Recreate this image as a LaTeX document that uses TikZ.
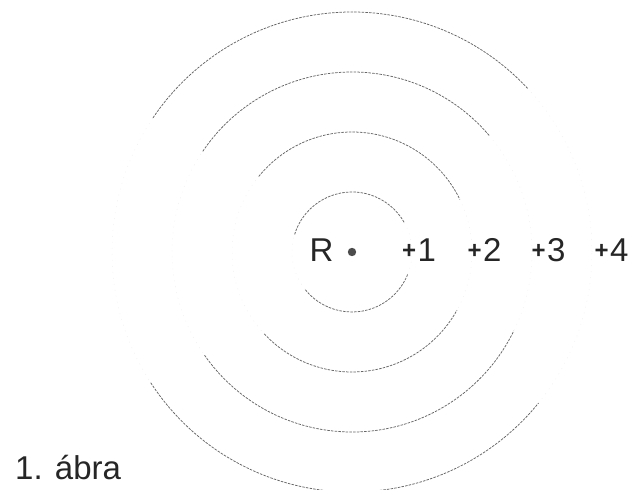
\documentclass[tikz,border=0pt]{standalone}
\usepackage{fontspec}
\setmainfont{Liberation Sans}
\usetikzlibrary{calc}
\newcommand{\plussign}{{\fontsize{24}{24}\selectfont\bfseries\raisebox{3.5pt}{+}}\kern1.5pt}
\begin{document}
\begin{tikzpicture}[x=1pt,y=1pt,
  ring/.style={draw=black!60, line width=0.75pt, dash pattern=on 2.5pt off 1.2pt},
  ghost/.style={draw=black!6, line width=0.5pt, dash pattern=on 1pt off 5pt},
  lbl/.style={anchor=base, inner sep=0pt, text=black!85, font=\fontsize{33}{38}\selectfont},
  pl/.style={lbl}]
\useasboundingbox (0,0) rectangle (635,490);
\coordinate (c) at (352,238);
% faint full circles
\foreach \r in {60,120,180,240} \draw[ghost] (c) circle (\r);
% visible arcs
\draw[ring] ($(c)+(163:60)$) arc (163:29:60);
\draw[ring] ($(c)+(219:60)$) arc (219:339:60);
\draw[ring] ($(c)+(141:120)$) arc (141:26:120);
\draw[ring] ($(c)+(223:120)$) arc (223:331:120);
\draw[ring] ($(c)+(146:180)$) arc (146:40:180);
\draw[ring] ($(c)+(215:180)$) arc (215:334:180);
\draw[ring] ($(c)+(146:240)$) arc (146:43:240);
\draw[ring] ($(c)+(213:240)$) arc (213:321:240);
% centre point and labels
\fill[black!70] (c) circle (4.2);
\node[lbl] (R) at (321.5,228) {R};
\node[pl] (p1) at (419,228) {\plussign 1};
\node[pl] (p2) at (484.5,228) {\plussign 2};
\node[pl] (p3) at (548.5,228) {\plussign 3};
\node[pl] (p4) at (611.5,228) {\plussign 4};
\node[lbl, anchor=base west] (cap) at (15,10) {1. ábra};
\end{tikzpicture}
\end{document}
